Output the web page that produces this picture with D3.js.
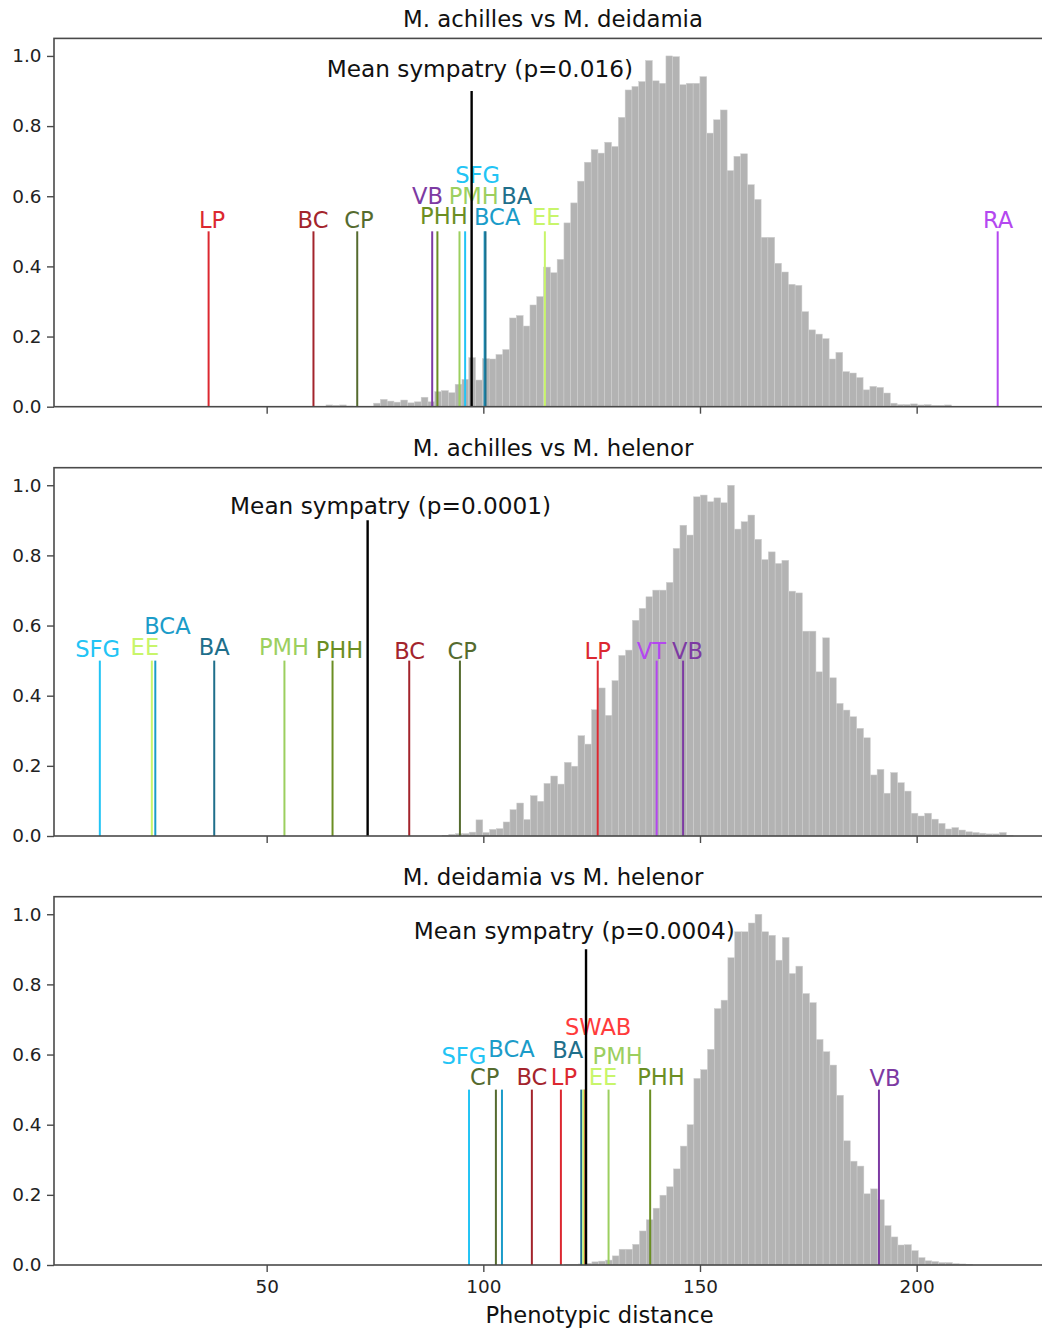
<!DOCTYPE html>
<html>
<head>
<meta charset="utf-8">
<script src="https://cdn.jsdelivr.net/npm/d3@7"></script>
<style>
  body { margin: 0; background: #fff; }
  svg { display: block; font-family: "DejaVu Sans", sans-serif; }
</style>
</head>
<body>
<div id="chart"></div>
<script>
// --- data ---
const titles = ["M. achilles vs M. deidamia", "M. achilles vs M. helenor", "M. deidamia vs M. helenor"];
const binWidth = 1.569;
const binStart = [63.69, 90.46, 118.78];

const heights1 = [
  0.005, 0.004, 0.005, 0.002, 0.001, 0.0, 0.001, 0.01, 0.021, 0.016,
  0.013, 0.019, 0.011, 0.014, 0.027, 0.014, 0.043, 0.046, 0.04, 0.064,
  0.078, 0.14, 0.076, 0.137, 0.136, 0.149, 0.163, 0.253, 0.26, 0.23,
  0.29, 0.314, 0.398, 0.382, 0.42, 0.524, 0.581, 0.643, 0.697, 0.733,
  0.723, 0.754, 0.742, 0.825, 0.903, 0.913, 0.927, 0.987, 0.929, 0.922,
  1.0, 0.998, 0.918, 0.922, 0.922, 0.941, 0.78, 0.818, 0.846, 0.673,
  0.714, 0.721, 0.633, 0.591, 0.483, 0.483, 0.409, 0.384, 0.349, 0.346,
  0.271, 0.219, 0.207, 0.194, 0.136, 0.155, 0.1, 0.096, 0.083, 0.048,
  0.058, 0.055, 0.039, 0.01, 0.006, 0.006, 0.008, 0.005, 0.006, 0.004,
  0.004, 0.005
];
const heights2 = [
  0.002, 0.005, 0.007, 0.007, 0.011, 0.046, 0.01, 0.019, 0.021, 0.04,
  0.075, 0.094, 0.047, 0.115, 0.099, 0.15, 0.171, 0.148, 0.21, 0.199,
  0.286, 0.262, 0.36, 0.422, 0.344, 0.443, 0.515, 0.53, 0.615, 0.649,
  0.682, 0.701, 0.701, 0.723, 0.82, 0.886, 0.858, 0.967, 0.972, 0.953,
  0.964, 0.95, 1.0, 0.875, 0.896, 0.915, 0.846, 0.788, 0.81, 0.777,
  0.786, 0.698, 0.693, 0.584, 0.584, 0.468, 0.565, 0.451, 0.378, 0.359,
  0.34, 0.307, 0.28, 0.174, 0.19, 0.122, 0.181, 0.152, 0.128, 0.065,
  0.057, 0.065, 0.048, 0.036, 0.02, 0.024, 0.017, 0.012, 0.01, 0.008,
  0.006, 0.006, 0.01, 0.002
];
const heights3 = [
  0.002, 0.002, 0.003, 0.005, 0.009, 0.011, 0.014, 0.026, 0.045, 0.045,
  0.059, 0.097, 0.129, 0.162, 0.199, 0.223, 0.274, 0.339, 0.4, 0.532,
  0.557, 0.615, 0.731, 0.755, 0.876, 0.95, 0.95, 0.975, 1.0, 0.95,
  0.94, 0.869, 0.934, 0.831, 0.852, 0.774, 0.748, 0.643, 0.608, 0.57,
  0.484, 0.354, 0.296, 0.282, 0.203, 0.217, 0.186, 0.112, 0.08, 0.057,
  0.058, 0.041, 0.021, 0.012, 0.01, 0.007, 0.007, 0.004, 0.003, 0.002
];

// observed sites: name, distance, label x, label baseline height
const sites1 = ["LP", "BC", "CP", "VB", "PHH", "PMH", "SFG", "BCA", "BA", "EE", "RA"];
const dist1 = [36.6, 60.8, 70.9, 88.2, 89.4, 94.5, 95.8, 100.3, 100.5, 114.2, 218.7];
const labX1 = [37.4, 60.7, 71.3, 87.1, 90.9, 97.8, 98.7, 103.2, 107.7, 114.5, 218.8];
const labY1 = [0.51, 0.51, 0.51, 0.577, 0.52, 0.577, 0.639, 0.518, 0.577, 0.518, 0.51];

const sites2 = ["SFG", "EE", "BCA", "BA", "PMH", "PHH", "BC", "CP", "LP", "VT", "VB"];
const dist2 = [11.5, 23.5, 24.3, 37.9, 54.1, 65.2, 82.9, 94.6, 126.4, 140.0, 146.1];
const labX2 = [11.0, 21.9, 27.1, 37.9, 54.0, 66.8, 83.0, 95.1, 126.4, 138.8, 147.1];
const labY2 = [0.509, 0.516, 0.577, 0.516, 0.516, 0.507, 0.505, 0.505, 0.505, 0.505, 0.505];

const sites3 = ["SFG", "CP", "BCA", "BC", "LP", "BA", "SWAB", "EE", "PMH", "PHH", "VB"];
const dist3 = [96.7, 102.9, 104.3, 111.2, 117.9, 122.6, 123.4, 123.1, 128.9, 138.5, 191.3];
const labX3 = [95.5, 100.3, 106.5, 111.2, 118.6, 119.5, 126.5, 127.6, 131.0, 141.0, 192.7];
const labY3 = [0.572, 0.513, 0.594, 0.513, 0.513, 0.589, 0.656, 0.513, 0.573, 0.513, 0.51];

const meanDist = [97.3, 73.3, 123.7];
const meanP = ["0.016", "0.0001", "0.0004"];
const meanLabX = [99.2, 78.6, 121.0];
const meanLabY = [0.939, 0.917, 0.929];

const yTicks = [0, 0.2, 0.4, 0.6, 0.8, 1.0];
const xTicks = [50, 100, 150, 200];

// --- styles ---
const siteColor = {
  LP: "#dc2830", BC: "#a3242c", CP: "#556b2f", PHH: "#6b8e23", PMH: "#9ccf5f",
  EE: "#c8f56a", SFG: "#22c4f5", BCA: "#1b9cc9", BA: "#1f6f8b", VB: "#7d3aa3",
  RA: "#b447f0", VT: "#b447f0", SWAB: "#ff3b3b"
};

const panels = [
  { sites: sites1, dist: dist1, labX: labX1, labY: labY1, heights: heights1 },
  { sites: sites2, dist: dist2, labX: labX2, labY: labY2, heights: heights2 },
  { sites: sites3, dist: dist3, labX: labX3, labY: labY3, heights: heights3 }
];

const width = 1042, height = 1331;
const left = 54, right = 1052;
const panelTop = [38.4, 467.7, 896.7], panelH = 368.3;
const font = "'DejaVu Sans', sans-serif";
const axisColor = "#4a4a4a";

const svg = d3.select("#chart").append("svg")
  .attr("width", width)
  .attr("height", height);

const x = d3.scaleLinear()
  .domain([(left - 50) / 4.3333, (right - 50) / 4.3333])
  .range([left, right]);

panels.forEach((p, i) => {
  const top = panelTop[i], bottom = top + panelH;
  const y = d3.scaleLinear().domain([0, 1.05]).range([bottom, top]);
  const g = svg.append("g");

  // histogram of permuted distances
  g.selectAll("rect.bar")
    .data(p.heights)
    .join("rect")
    .attr("class", "bar")
    .attr("x", (d, k) => x(binStart[i] + k * binWidth))
    .attr("width", (d, k) => x(binStart[i] + (k + 1) * binWidth) - x(binStart[i] + k * binWidth))
    .attr("y", d => y(d))
    .attr("height", d => y(0) - y(d))
    .attr("fill", "#b3b3b3")
    .attr("stroke", "#cfcfcf")
    .attr("stroke-width", 0.5);

  // site lines
  g.selectAll("line.site")
    .data(p.sites)
    .join("line")
    .attr("class", "site")
    .attr("x1", (d, k) => x(p.dist[k]))
    .attr("x2", (d, k) => x(p.dist[k]))
    .attr("y1", y(0))
    .attr("y2", y(0.5))
    .attr("stroke", d => siteColor[d])
    .attr("stroke-width", 2);

  g.selectAll("text.site")
    .data(p.sites)
    .join("text")
    .attr("class", "site")
    .attr("x", (d, k) => x(p.labX[k]))
    .attr("y", (d, k) => y(p.labY[k]))
    .attr("text-anchor", "middle")
    .attr("font-family", font)
    .attr("font-size", 22.6)
    .attr("fill", d => siteColor[d])
    .text(d => d);

  // mean sympatry
  g.append("line")
    .attr("x1", x(meanDist[i])).attr("x2", x(meanDist[i]))
    .attr("y1", y(0)).attr("y2", y(0.9))
    .attr("stroke", "#000")
    .attr("stroke-width", 2.4);

  g.append("text")
    .attr("x", x(meanLabX[i]))
    .attr("y", y(meanLabY[i]))
    .attr("text-anchor", "middle")
    .attr("font-family", font)
    .attr("font-size", 23.2)
    .attr("fill", "#111")
    .text(`Mean sympatry (p=${meanP[i]})`);

  // axes
  const ya = g.append("g")
    .attr("transform", `translate(${left},0)`)
    .call(d3.axisLeft(y).tickValues(yTicks).tickFormat(d3.format(".1f"))
      .tickSize(7).tickPadding(5.5).tickSizeOuter(0));
  const xa = g.append("g")
    .attr("transform", `translate(0,${bottom})`)
    .call(d3.axisBottom(x).tickValues(xTicks)
      .tickFormat(i === 2 ? d3.format("d") : () => "")
      .tickSize(7).tickPadding(8).tickSizeOuter(0));

  [ya, xa].forEach(a => {
    a.attr("font-family", font).attr("font-size", 18.4);
    a.select(".domain").remove();
    a.selectAll(".tick line").attr("stroke", axisColor).attr("stroke-width", 1.4);
    a.selectAll(".tick text").attr("fill", "#222");
  });

  // frame
  g.append("rect")
    .attr("x", left).attr("y", top)
    .attr("width", right - left).attr("height", panelH)
    .attr("fill", "none")
    .attr("stroke", axisColor)
    .attr("stroke-width", 1.6);

  svg.append("text")
    .attr("x", (left + right) / 2)
    .attr("y", top - 11.5)
    .attr("text-anchor", "middle")
    .attr("font-family", font)
    .attr("font-size", 22.8)
    .attr("fill", "#111")
    .text(titles[i]);
});

svg.append("text")
  .attr("x", 599.5)
  .attr("y", 1323)
  .attr("text-anchor", "middle")
  .attr("font-family", font)
  .attr("font-size", 22.6)
  .attr("fill", "#111")
  .text("Phenotypic distance");
</script>
</body>
</html>
